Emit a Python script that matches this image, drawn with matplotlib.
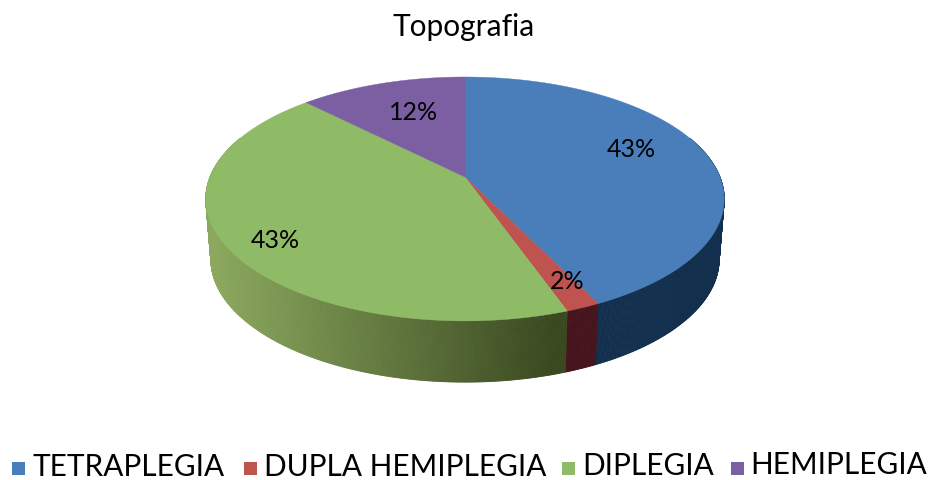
import numpy as np
import matplotlib
matplotlib.use("Agg")
import matplotlib.pyplot as plt
from matplotlib.collections import PolyCollection
from matplotlib.patches import Polygon, Rectangle

title = "Topografia"
categories = ["TETRAPLEGIA", "DUPLA HEMIPLEGIA", "DIPLEGIA", "HEMIPLEGIA"]
values = [42.8, 1.8, 43.0, 12.4]
pct_labels = ["43%", "2%", "43%", "12%"]

top_colors = ["#4a7ebb", "#be5350", "#8fba66", "#7c5fa3"]
side_light = ["#1b3e62", "#561a22", "#8ba85e", "#5a4478"]
side_dark = ["#12304e", "#46141c", "#39481f", "#3f2f55"]

label_xy = [(631, 150), (567, 282), (275, 241), (414, 112)]
legend_box_x = [12, 244, 562, 731]
legend_text_x = [33, 264, 582, 750]
legend_text_y = [467, 467, 466, 465]

CX, CY = 465, 178
K = 0.18


def rim(theta, rx=255, ry=118, cy=CY):
    # circle seen in perspective, theta clockwise from the top
    u, v = np.sin(theta), np.cos(theta)
    w = 1 + K * v
    return np.column_stack([CX + rx * u / w, cy - ry * v / w])


plt.rcParams["font.family"] = ["Lato", "DejaVu Sans"]
fig = plt.figure(figsize=(9.29, 4.81), dpi=100)
ax = fig.add_axes([0, 0, 1, 1])
ax.set_xlim(0, 929)
ax.set_ylim(481, 0)
ax.axis("off")

edges = np.cumsum([0] + values) / sum(values) * 2 * np.pi

# side wall, little strips shaded from left to right
quads, colors = [], []
for i in range(len(values)):
    n = max(int((edges[i + 1] - edges[i]) * 150), 4)
    t = np.linspace(edges[i], edges[i + 1], n + 1)
    a = rim(t)
    b = rim(t, rx=250, ry=119, cy=CY + 60)
    light = np.array(matplotlib.colors.to_rgb(side_light[i]))
    dark = np.array(matplotlib.colors.to_rgb(side_dark[i]))
    for j in range(n):
        if np.cos(t[j]) > 0.35:
            continue
        quads.append([a[j], a[j + 1], b[j + 1], b[j]])
        f = np.clip((a[j][0] - 215) / 340, 0, 1)
        colors.append(light + (dark - light) * f)
ax.add_collection(PolyCollection(quads, facecolors=colors, edgecolors=colors, linewidths=0.6))

# top face
for i in range(len(values)):
    t = np.linspace(edges[i], edges[i + 1], 200)
    pts = np.vstack([[CX, CY], rim(t)])
    ax.add_patch(Polygon(pts, closed=True, facecolor=top_colors[i], edgecolor=top_colors[i], linewidth=0.3))

for s, (x, y) in zip(pct_labels, label_xy):
    ax.text(x, y, s, ha="center", va="center", fontsize=18, color="black")

ax.text(464, 27, title, ha="center", va="center", fontsize=21.5, color="black")

for i, name in enumerate(categories):
    ax.add_patch(Rectangle((legend_box_x[i], 463), 13, 13, facecolor=top_colors[i], edgecolor="none"))
    ax.text(legend_text_x[i], legend_text_y[i], name, ha="left", va="center",
            fontsize=21.4, color="black")

fig.savefig("out.png", dpi=100)
